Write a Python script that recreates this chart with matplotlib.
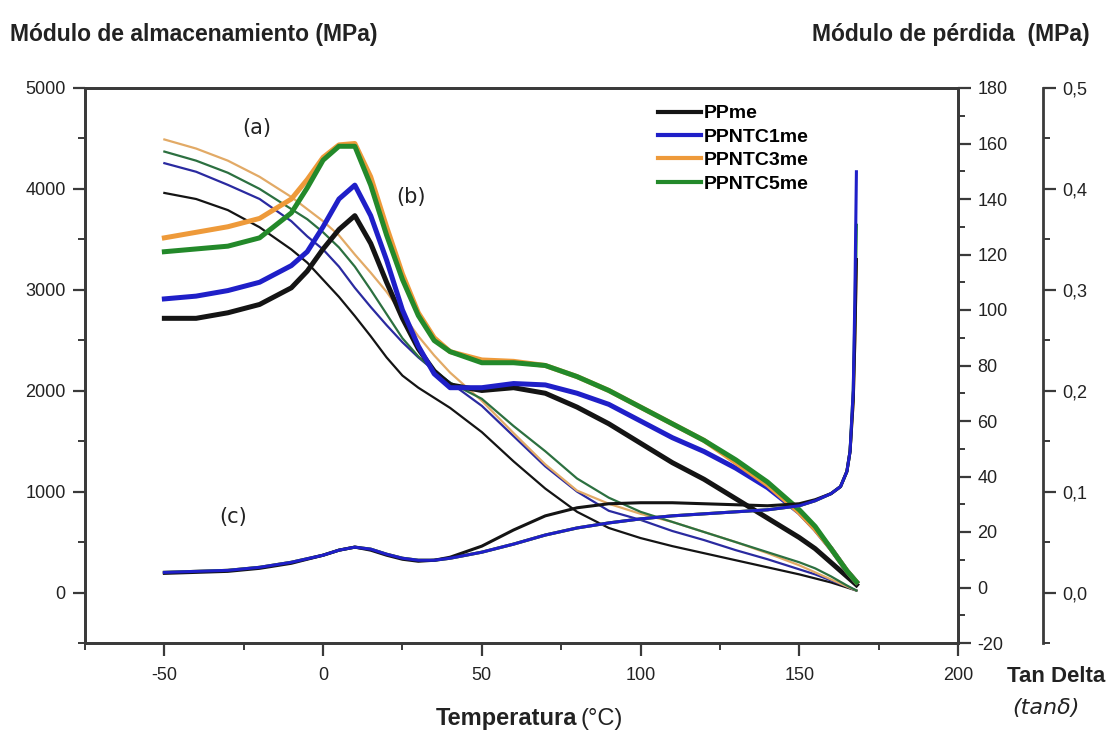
import numpy as np
import matplotlib.pyplot as plt
from matplotlib.ticker import MultipleLocator, FixedLocator, FixedFormatter

plt.rcParams['font.family'] = ['Liberation Sans', 'DejaVu Sans']
plt.rcParams['axes.unicode_minus'] = False

# temperature grid for storage / loss modulus (C)
temp = [-50, -40, -30, -20, -10, -5, 0, 5, 10, 15, 20, 25, 30, 35, 40, 50, 60,
        70, 80, 90, 100, 110, 120, 130, 140, 150, 155, 160, 165, 168]

# storage modulus E' (MPa), curves (a)
storage_ppme = [3960, 3900, 3790, 3620, 3400, 3270, 3100, 2930, 2740, 2540, 2330, 2150,
                2030, 1930, 1830, 1590, 1300, 1030, 800, 640, 540, 460, 390, 320, 250,
                180, 140, 100, 50, 20]
storage_c1 = [4255, 4170, 4040, 3900, 3680, 3530, 3400, 3230, 3020, 2830, 2650, 2480,
              2330, 2200, 2080, 1850, 1550, 1250, 1000, 810, 720, 610, 520, 420, 330,
              230, 180, 120, 60, 20]
storage_c3 = [4490, 4400, 4280, 4120, 3920, 3800, 3680, 3540, 3350, 3170, 2980, 2760,
              2540, 2350, 2180, 1900, 1580, 1270, 1010, 880, 780, 700, 600, 500, 390,
              270, 200, 130, 60, 20]
storage_c5 = [4370, 4280, 4160, 4000, 3800, 3700, 3570, 3420, 3230, 3000, 2760, 2520,
              2340, 2200, 2080, 1920, 1650, 1400, 1130, 940, 800, 700, 600, 500, 400,
              300, 240, 160, 70, 20]

# loss modulus E'' (MPa), curves (b)
loss_ppme = [97, 97, 99, 102, 108, 114, 122, 129, 134, 124, 110, 97, 86, 78, 73, 71, 72,
             70, 65, 59, 52, 45, 39, 32, 25, 18, 14, 9, 4, 1]
loss_c1 = [104, 105, 107, 110, 116, 121, 130, 140, 145, 134, 118, 100, 87, 77, 72, 72,
           73.5, 73, 70, 66, 60, 54, 49, 43, 36, 27, 21, 14, 6, 2]
loss_c3 = [126, 128, 130, 133, 140, 147, 155, 159.5, 160, 148, 130, 113, 99, 90, 85, 82,
           81.5, 80, 76, 71, 65, 59, 53, 45, 37, 27, 21, 14, 6, 2]
loss_c5 = [121, 122, 123, 126, 135, 144, 154, 159, 159, 145, 127, 111, 98, 89, 85, 81,
           81, 80, 76, 71, 65, 59, 53, 46, 38, 28, 22, 14, 6, 2]

# tan delta, curves (c)
temp_tan = [-50, -40, -30, -20, -10, 0, 5, 10, 15, 20, 25, 30, 35, 40, 50, 60, 70, 80,
            90, 100, 110, 120, 130, 140, 150, 155, 160, 163, 165, 166, 167, 167.5, 168]
tan_ppme = [0.019, 0.020, 0.021, 0.024, 0.029, 0.037, 0.042, 0.045, 0.042, 0.037, 0.033,
            0.031, 0.032, 0.035, 0.046, 0.062, 0.076, 0.084, 0.088, 0.089, 0.089, 0.088,
            0.087, 0.086, 0.088, 0.092, 0.098, 0.105, 0.12, 0.14, 0.19, 0.25, 0.33]
tan_c1 = [0.020, 0.021, 0.022, 0.025, 0.030, 0.037, 0.042, 0.045, 0.043, 0.038, 0.034,
          0.032, 0.032, 0.034, 0.040, 0.048, 0.057, 0.064, 0.069, 0.073, 0.076, 0.078,
          0.080, 0.082, 0.086, 0.091, 0.098, 0.105, 0.12, 0.14, 0.20, 0.29, 0.417]
tan_c3 = [0.020, 0.021, 0.022, 0.025, 0.030, 0.037, 0.042, 0.045, 0.043, 0.038, 0.034,
          0.032, 0.032, 0.034, 0.040, 0.048, 0.057, 0.064, 0.069, 0.073, 0.076, 0.078,
          0.080, 0.082, 0.086, 0.091, 0.098, 0.105, 0.12, 0.14, 0.19, 0.25, 0.33]
tan_c5 = [0.020, 0.021, 0.022, 0.025, 0.030, 0.037, 0.042, 0.045, 0.043, 0.038, 0.034,
          0.032, 0.032, 0.034, 0.040, 0.048, 0.057, 0.064, 0.069, 0.073, 0.076, 0.078,
          0.080, 0.082, 0.086, 0.091, 0.098, 0.105, 0.12, 0.14, 0.20, 0.27, 0.364]

labels = ["PPme", "PPNTC1me", "PPNTC3me", "PPNTC5me"]
colors = ["#141414", "#1f1fc8", "#ee9a3a", "#23892a"]
thin_colors = ["#141414", "#2a2aa0", "#e2aa66", "#2c7040"]

storage = [storage_ppme, storage_c1, storage_c3, storage_c5]
loss = [loss_ppme, loss_c1, loss_c3, loss_c5]
tand = [tan_ppme, tan_c1, tan_c3, tan_c5]

spine_col = "#3a3a3a"
txt_col = "#222222"

fig = plt.figure(figsize=(11.1, 7.4), dpi=100)
ax = fig.add_axes([85 / 1110, 1 - 643 / 740, 873 / 1110, 555 / 740])
ax2 = ax.twinx()
ax3 = ax.twinx()

# (a) storage modulus, thin lines
for vals, c in zip(storage, thin_colors):
    ax.plot(temp, vals, color=c, lw=1.6)

# (b) loss modulus, thick lines (orange under green)
for i in [0, 1, 2, 3]:
    ax2.plot(temp, loss[i], color=colors[i], lw=3.6, solid_joinstyle='round')

# (c) tan delta
for i in [2, 3, 0, 1]:
    ax3.plot(temp_tan, tand[i], color=colors[i], lw=2.2)

ax.set_xlim(-75, 200)
ax.set_ylim(-500, 5000)
ax2.set_ylim(-20, 180)
ax3.set_ylim(-0.05, 0.5)

ax.xaxis.set_major_locator(FixedLocator([-50, 0, 50, 100, 150, 200]))
ax.xaxis.set_minor_locator(MultipleLocator(25))
ax.yaxis.set_major_locator(FixedLocator([0, 1000, 2000, 3000, 4000, 5000]))
ax.yaxis.set_minor_locator(MultipleLocator(500))
ax2.yaxis.set_major_locator(MultipleLocator(20))
ax2.yaxis.set_minor_locator(MultipleLocator(10))
tan_ticks = [0.0, 0.1, 0.2, 0.3, 0.4, 0.5]
ax3.yaxis.set_major_locator(FixedLocator(tan_ticks))
ax3.yaxis.set_major_formatter(FixedFormatter([f"{t:.1f}".replace(".", ",") for t in tan_ticks]))
ax3.yaxis.set_minor_locator(MultipleLocator(0.05))

for a in (ax, ax2, ax3):
    for s in a.spines.values():
        s.set_color(spine_col)
        s.set_linewidth(2)
    a.tick_params(which='major', direction='out', length=9, width=1.6,
                  colors=spine_col, labelcolor=txt_col, labelsize=13)
    a.tick_params(which='minor', direction='out', length=5, width=1.4, colors=spine_col)

ax.tick_params(axis='x', pad=8)
ax.tick_params(axis='y', pad=5)
ax.tick_params(top=False, right=False, which='both')
ax2.tick_params(axis='y', pad=5)

ax3.spines['right'].set_position(('axes', 1.097))
for side in ['left', 'top', 'bottom']:
    ax3.spines[side].set_visible(False)
ax3.spines['right'].set_bounds(-0.05, 0.5)
ax3.tick_params(axis='y', pad=5)

# annotations
for x, y, s in [(-21, 4600, "(a)"), (27.7, 3920, "(b)"), (-28.3, 750, "(c)")]:
    ax.text(x, y, s, fontsize=15, family='DejaVu Sans', color=txt_col,
            ha='center', va='center')

# legend
handles = [plt.Line2D([], [], color=c, lw=3) for c in colors]
fig.legend(handles, labels, loc='upper left', bbox_to_anchor=(648 / 1110, 1 - 95 / 740),
           frameon=False, prop={'weight': 'bold', 'size': 14},
           handlelength=2.2, handletextpad=0.15, labelspacing=0.3, borderpad=0)

# axis titles
fig.text(10 / 1110, 1 - 35 / 740, "Módulo de almacenamiento (MPa)", fontsize=16.5,
         weight='bold', color=txt_col, ha='left', va='center')
fig.text(1090 / 1110, 1 - 35 / 740, "Módulo de pérdida  (MPa)", fontsize=16.5,
         weight='bold', color=txt_col, ha='right', va='center')
fig.text(577 / 1110, 1 - 719 / 740, "Temperatura", fontsize=17, weight='bold',
         color=txt_col, ha='right', va='center')
fig.text(581 / 1110, 1 - 719 / 740, "(°C)", fontsize=17, color=txt_col,
         ha='left', va='center')
fig.text(1056 / 1110, 1 - 676 / 740, "Tan Delta", fontsize=16, weight='bold',
         color=txt_col, ha='center', va='center')
fig.text(1046 / 1110, 1 - 708 / 740, "(tanδ)", fontsize=16, style='italic',
         family='DejaVu Sans', color=txt_col, ha='center', va='center')

fig.savefig("out.png", dpi=100)
